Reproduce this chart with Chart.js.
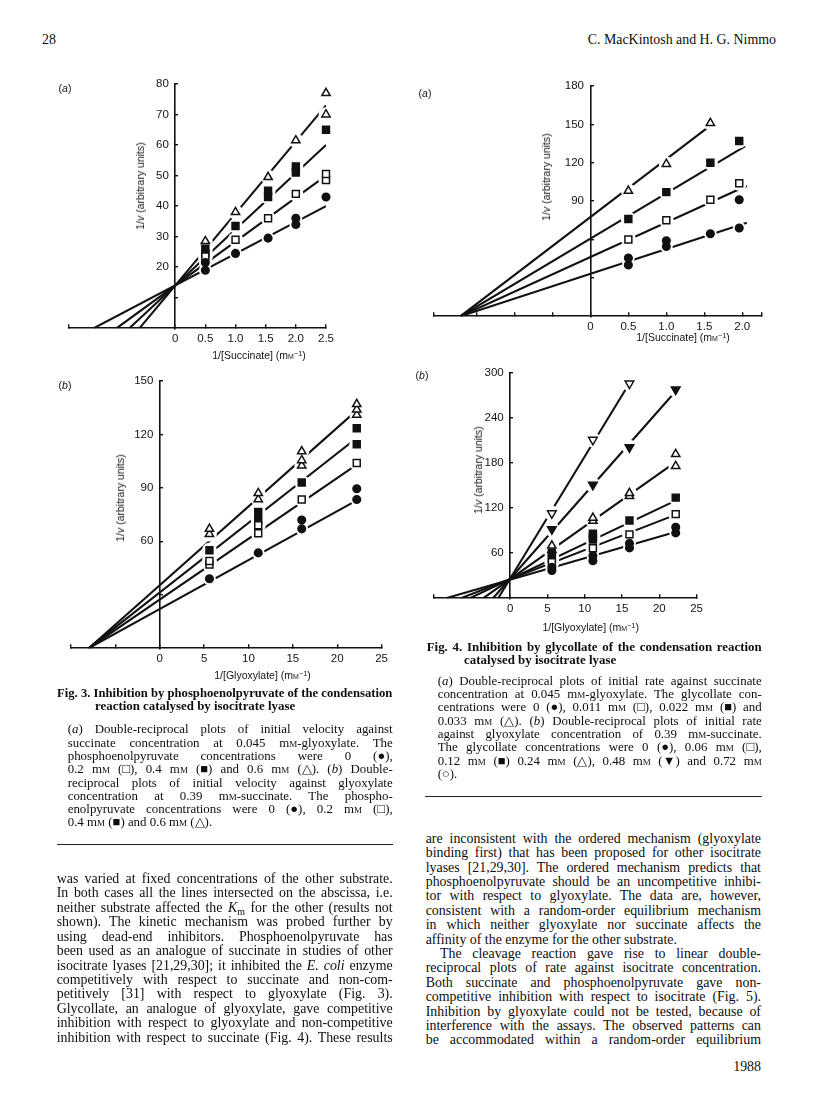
<!DOCTYPE html>
<html>
<head>
<meta charset="utf-8">
<title>Fig. 3 and Fig. 4 - isocitrate lyase inhibition</title>
<script src="https://cdn.jsdelivr.net/npm/chart.js@4.4.0/dist/chart.umd.min.js"></script>
<style>
  html, body { margin: 0; padding: 0; background: #fff; }
  #page { position: relative; width: 816px; height: 1100px; overflow: hidden; color: #0e0e0e;
          font-family: "Liberation Serif", "Times New Roman", serif; }
  #page canvas { position: absolute; }
  .ln { position: absolute; white-space: nowrap; }
  .body { font-size: 13.9px; line-height: 15px; }
  .cap { font-size: 12.9px; line-height: 14px; }
  .capt { font-size: 12.9px; line-height: 14px; font-weight: bold; }
  .ax { position: absolute; white-space: nowrap; font-family: "Liberation Sans", Arial, sans-serif;
        font-size: 10.5px; line-height: 12px; color: #141414; }
  .sc { font-variant: small-caps; }
  .rule { position: absolute; height: 0; border-top: 1.6px solid #222; }
  sup { font-size: 0.7em; line-height: 0; vertical-align: 0.45em; }
  sub { font-size: 0.72em; line-height: 0; vertical-align: -0.25em; }
</style>
</head>
<body>
<div id="page"></div>
<script>
const page = document.getElementById('page');

// ---------- data ----------

// Fig. 3(a): 1/v against 1/[succinate], PEP 0 / 0.2 / 0.4 / 0.6 mM
const f3aCircle = [[0.5,19],[0.5,21.5],[1.0,24.5],[1.54,29.5],[2.0,34],[2.0,36],[2.5,43]];
const f3aOpenSq = [[0.5,23.5],[1.0,29],[1.54,36],[2.0,44],[2.5,48.5],[2.5,50.5]];
const f3aFillSq = [[0.5,24.5],[0.5,26],[1.0,33.5],[1.54,43],[1.54,45],[2.0,51],[2.0,53],[2.5,65]];
const f3aTri    = [[0.5,28.5],[1.0,38],[1.54,49.5],[2.0,61.5],[2.5,70],[2.5,77]];
// fitted lines: [x start, y start, x end, y end]
const f3aLines  = [[-1.35,0,2.5,40],[-0.97,0,2.5,50],[-0.76,0,2.5,60],[-0.59,0,2.5,73]];
const f3aXTicks = [-1.76,0,0.5,1,1.5,2,2.5];
const f3aXLabels = ['','0','0.5','1.0','1.5','2.0','2.5'];
const f3aYTicks = [10,20,30,40,50,60,70,80];
const f3aYLabels = ['','20','30','40','50','60','70','80'];

// Fig. 3(b): 1/v against 1/[glyoxylate]
const f3bCircle = [[5.6,39],[11.1,53.5],[16,67],[16,72],[22.2,83.5],[22.2,89.5]];
const f3bOpenSq = [[5.6,47],[5.6,49],[11.1,64.5],[11.1,69],[16,83.5],[22.2,104]];
const f3bFillSq = [[5.6,55],[11.1,72],[11.1,76.5],[16,93],[22.2,114.5],[22.2,123.5]];
const f3bTri    = [[5.6,64],[5.6,67],[11.1,83.5],[11.1,87],[16,102.5],[16,105.5],[16,110.5],[22.2,131],[22.2,134],[22.2,137]];
const f3bLines  = [[-8,0,22.2,83],[-8,0,22.2,103],[-8,0,22.2,118],[-8,0,22.2,133.5]];
const f3bXTicks = [-10,-5,0,5,10,15,20,25];
const f3bXLabels = ['','','0','5','10','15','20','25'];
const f3bYTicks = [30,60,90,120,150];
const f3bYLabels = ['','60','90','120','150'];

// Fig. 4(a): 1/v against 1/[succinate], glycollate 0 / 0.011 / 0.022 / 0.033 mM
const f4aCircle = [[0.5,40],[0.5,45.5],[1.0,54.5],[1.0,59],[1.58,64.5],[1.96,69],[1.96,91]];
const f4aOpenSq = [[0.5,60],[1.0,75],[1.58,91],[1.96,104]];
const f4aFillSq = [[0.5,76],[1.0,97],[1.58,120],[1.96,137]];
const f4aTri    = [[0.5,98],[1.0,119],[1.58,151]];
const f4aLines  = [[-1.71,0,2.06,73],[-1.71,0,2.06,102],[-1.71,0,2.04,133],[-1.71,0,1.6,150]];
const f4aXTicks = [-2.06,-1.5,-1,-0.5,0,0.5,1,1.5,2,2.26];
const f4aXLabels = ['','','','','0','0.5','1.0','1.5','2.0',''];
const f4aYTicks = [30,60,90,120,150,180];
const f4aYLabels = ['','','90','120','150','180'];

// Fig. 4(b): 1/v against 1/[glyoxylate], glycollate 0 ... 0.72 mM
const f4bCircle  = [[5.6,37],[5.6,41],[11.1,50],[11.1,56.5],[16,67],[16,73],[22.2,87],[22.2,94.5]];
const f4bOpenSq  = [[5.6,48],[11.1,66.5],[16,85],[22.2,112]];
const f4bFillSq  = [[5.6,53],[5.6,60],[11.1,78],[11.1,82],[11.1,86],[16,103.5],[22.2,134]];
const f4bTri     = [[5.6,64],[5.6,70],[11.1,103],[11.1,107],[16,136],[16,140],[22.2,176],[22.2,192]];
const f4bDownFill = [[5.6,92],[11.1,151],[16,201],[22.2,278]];
const f4bDownOpen = [[5.6,113],[11.1,211],[16,286]];
const f4bLines   = [[-8.6,0,22.4,89],[-6.6,0,22.4,112],[-5.4,0,22.4,131],[-3.6,0,22.4,183],[-2.3,0,22.4,278],[-1.6,0,16.1,288]];
const f4bXTicks = [-10.2,0,5,10,15,20,25];
const f4bXLabels = ['','0','5','10','15','20','25'];
const f4bYTicks = [60,120,180,240,300];
const f4bYLabels = ['60','120','180','240','300'];

// ---------- marker styles ----------
const MK = {
  circle:   { style: 'circle',   r: 3.8, fill: '#111111', rot: 0 },
  openSq:   { style: 'rect',     r: 4.9, fill: '#ffffff', rot: 0 },
  fillSq:   { style: 'rect',     r: 4.9, fill: '#111111', rot: 0 },
  tri:      { style: 'triangle', r: 4.8, fill: '#ffffff', rot: 0 },
  downFill: { style: 'triangle', r: 5.0, fill: '#111111', rot: 180 },
  downOpen: { style: 'triangle', r: 5.0, fill: '#ffffff', rot: 180 }
};

const pts = a => a.map(p => ({ x: p[0], y: p[1] }));

function buildDatasets(series, lines) {
  const ds = [];
  series.forEach(s => {
    const m = MK[s.mk];
    ds.push({ data: pts(s.data), pointStyle: m.style, pointRadius: m.r, pointRotation: m.rot, clip: false,
              pointBackgroundColor: m.fill, pointBorderColor: '#111111', pointBorderWidth: 1.5, order: 0 });
    // white halo so the fitted lines break around each symbol
    ds.push({ data: pts(s.data), pointStyle: 'circle', pointRadius: m.r + 2.6, clip: false,
              pointBackgroundColor: '#ffffff', pointBorderWidth: 0, order: 1 });
  });
  lines.forEach(l => {
    ds.push({ data: [{ x: l[0], y: l[1] }, { x: l[2], y: l[3] }], showLine: true, pointRadius: 0,
              borderColor: '#111111', borderWidth: 2.1, order: 2 });
  });
  return ds;
}

// plot-area boxes on the page (left, top, right, bottom)
const panels = [
  { box: { l: 65, t: 84, r: 328, b: 328 }, x: [-1.76, 2.5], y: [0, 80],
    xTicks: f3aXTicks, xLabels: f3aXLabels, yTicks: f3aYTicks, yLabels: f3aYLabels,
    series: [{ mk: 'circle', data: f3aCircle }, { mk: 'openSq', data: f3aOpenSq },
             { mk: 'fillSq', data: f3aFillSq }, { mk: 'tri', data: f3aTri }], lines: f3aLines },
  { box: { l: 66.7, t: 380.7, r: 381.7, b: 648 }, x: [-10, 25], y: [0, 150],
    xTicks: f3bXTicks, xLabels: f3bXLabels, yTicks: f3bYTicks, yLabels: f3bYLabels,
    series: [{ mk: 'circle', data: f3bCircle }, { mk: 'openSq', data: f3bOpenSq },
             { mk: 'fillSq', data: f3bFillSq }, { mk: 'tri', data: f3bTri }], lines: f3bLines },
  { box: { l: 430, t: 86, r: 761.7, b: 316 }, x: [-2.06, 2.26], y: [0, 180],
    xTicks: f4aXTicks, xLabels: f4aXLabels, yTicks: f4aYTicks, yLabels: f4aYLabels,
    series: [{ mk: 'circle', data: f4aCircle }, { mk: 'openSq', data: f4aOpenSq },
             { mk: 'fillSq', data: f4aFillSq }, { mk: 'tri', data: f4aTri }], lines: f4aLines },
  { box: { l: 430, t: 372.7, r: 697.3, b: 597.5 }, x: [-10.2, 25], y: [0, 300],
    xTicks: f4bXTicks, xLabels: f4bXLabels, yTicks: f4bYTicks, yLabels: f4bYLabels,
    series: [{ mk: 'circle', data: f4bCircle }, { mk: 'openSq', data: f4bOpenSq },
             { mk: 'fillSq', data: f4bFillSq }, { mk: 'tri', data: f4bTri },
             { mk: 'downFill', data: f4bDownFill }, { mk: 'downOpen', data: f4bDownOpen }], lines: f4bLines }
];

const tickFont = { family: 'Liberation Sans', size: 11.5 };
const axisGrid = { drawOnChartArea: false, drawTicks: true, tickLength: -4, color: '#111111', lineWidth: 1.4 };
const axisBorder = { display: true, color: '#111111', width: 1.6 };

function drawPanel(p) {
  const padL = 4, padR = 14, padT = 12, padB = 2, axisH = 25.8;
  const w = Math.round(p.box.r - p.box.l + padL + padR);
  const h = Math.round(p.box.b - p.box.t + padT + axisH + padB);
  const cv = document.createElement('canvas');
  cv.width = w; cv.height = h;
  cv.style.width = w + 'px'; cv.style.height = h + 'px';
  cv.style.left = (p.box.l - padL) + 'px';
  cv.style.top = (p.box.t - padT) + 'px';
  page.appendChild(cv);

  new Chart(cv, {
    type: 'scatter',
    data: { datasets: buildDatasets(p.series, p.lines) },
    options: {
      responsive: false, animation: false, devicePixelRatio: 1,
      layout: { padding: { left: padL, right: padR, top: padT, bottom: padB } },
      plugins: { legend: { display: false }, tooltip: { enabled: false } },
      scales: {
        x: {
          type: 'linear', position: 'bottom', min: p.x[0], max: p.x[1],
          afterBuildTicks: ax => { ax.ticks = p.xTicks.map(v => ({ value: v })); },
          ticks: { autoSkip: false, maxRotation: 0, padding: 8, color: '#141414', font: tickFont,
                   callback: (v, i) => p.xLabels[i] },
          grid: axisGrid, border: axisBorder
        },
        y: {
          type: 'linear', position: { x: 0 }, min: p.y[0], max: p.y[1],
          afterBuildTicks: ax => { ax.ticks = p.yTicks.map(v => ({ value: v })); },
          ticks: { autoSkip: false, color: '#141414', font: tickFont,
                   callback: (v, i) => p.yLabels[i] ? p.yLabels[i] + '  ' : '' },
          grid: axisGrid, border: axisBorder
        }
      }
    }
  });
}
panels.forEach(drawPanel);

// ---------- text ----------
const MM = 'm<span class="sc">m</span>';

function putLine(html, cls, x, yc, w, just) {
  const d = document.createElement('div');
  d.className = 'ln ' + cls;
  d.innerHTML = html;
  page.appendChild(d);
  const lh = parseFloat(getComputedStyle(d).lineHeight);
  d.style.left = x + 'px';
  d.style.top = (yc - lh / 2) + 'px';
  if (w) {
    const nat = d.getBoundingClientRect().width;
    const gaps = (d.textContent.match(/ /g) || []).length;
    if (nat > w) { d.style.transformOrigin = '0 50%'; d.style.transform = 'scaleX(' + (w / nat) + ')'; }
    else if (just && gaps) d.style.wordSpacing = ((w - nat) / gaps) + 'px';
  }
  return d;
}
function putRight(html, cls, right, yc) {
  const d = putLine(html, cls, 0, yc, 0, false);
  d.style.left = (right - d.getBoundingClientRect().width) + 'px';
}
function putBlock(lines, cls, x, y0, step, w, lastLeft) {
  lines.forEach((t, i) => putLine(t, cls, x, y0 + i * step, w, !(lastLeft && i === lines.length - 1)));
}
function axisText(html, cx, cy, rotate) {
  const d = document.createElement('div');
  d.className = 'ax';
  d.innerHTML = html;
  d.style.left = cx + 'px';
  d.style.top = cy + 'px';
  d.style.transform = 'translate(-50%, -50%)' + (rotate ? ' rotate(-90deg)' : '');
  page.appendChild(d);
}
function rule(x1, x2, y) {
  const d = document.createElement('div');
  d.className = 'rule';
  d.style.left = x1 + 'px'; d.style.width = (x2 - x1) + 'px'; d.style.top = y + 'px';
  page.appendChild(d);
}

// running head
putLine('28', 'body', 42, 39, 0, false);
putRight('C. MacKintosh and H. G. Nimmo', 'body', 776, 39);

// axis titles and panel letters
const yTitle = '1/<i>v</i> (arbitrary units)';
axisText('(<i>a</i>)', 65, 88, false);
axisText(yTitle, 140, 186, true);
axisText(`1/[Succinate] (${MM}<sup>−1</sup>)`, 259, 354.5, false);
axisText('(<i>b</i>)', 65, 385, false);
axisText(yTitle, 120, 498, true);
axisText(`1/[Glyoxylate] (${MM}<sup>−1</sup>)`, 262.5, 675, false);
axisText('(<i>a</i>)', 425, 93, false);
axisText(yTitle, 545.7, 177, true);
axisText(`1/[Succinate] (${MM}<sup>−1</sup>)`, 683, 336.7, false);
axisText('(<i>b</i>)', 422, 375, false);
axisText(yTitle, 478.3, 470, true);
axisText(`1/[Glyoxylate] (${MM}<sup>−1</sup>)`, 590.7, 626.7, false);

// Fig. 3 legend
putLine('Fig. 3. Inhibition by phosphoenolpyruvate of the condensation', 'capt', 57.3, 692.5, 335.4, true);
putLine('reaction catalysed by isocitrate lyase', 'capt', 95, 706, 0, false);
putBlock([
  '(<i>a</i>) Double-reciprocal plots of initial velocity against',
  `succinate concentration at 0.045 ${MM}-glyoxylate. The`,
  'phosphoenolpyruvate concentrations were 0 (●),',
  `0.2 ${MM} (□), 0.4 ${MM} (■) and 0.6 ${MM} (△). (<i>b</i>) Double-`,
  'reciprocal plots of initial velocity against glyoxylate',
  `concentration at 0.39 ${MM}-succinate. The phospho-`,
  `enolpyruvate concentrations were 0 (●), 0.2 ${MM} (□),`,
  `0.4 ${MM} (■) and 0.6 ${MM} (△).`
], 'cap', 67.7, 729.3, 13.3, 325, true);
rule(57, 393, 843.5);

// Fig. 4 legend
putLine('Fig. 4. Inhibition by glycollate of the condensation reaction', 'capt', 426.7, 646.5, 335, true);
putLine('catalysed by isocitrate lyase', 'capt', 464, 660, 0, false);
putBlock([
  '(<i>a</i>) Double-reciprocal plots of initial rate against succinate',
  `concentration at 0.045 ${MM}-glyoxylate. The glycollate con-`,
  `centrations were 0 (●), 0.011 ${MM} (□), 0.022 ${MM} (■) and`,
  `0.033 ${MM} (△). (<i>b</i>) Double-reciprocal plots of initial rate`,
  `against glyoxylate concentration of 0.39 ${MM}-succinate.`,
  `The glycollate concentrations were 0 (●), 0.06 ${MM} (□),`,
  `0.12 ${MM} (■) 0.24 ${MM} (△), 0.48 ${MM} (▼) and 0.72 ${MM}`,
  '(○).'
], 'cap', 437.7, 680.7, 13.3, 324, true);
rule(425, 762, 795.5);

// body text, left column
putBlock([
  'was varied at fixed concentrations of the other substrate.',
  'In both cases all the lines intersected on the abscissa, i.e.',
  'neither substrate affected the <i>K</i><sub>m</sub> for the other (results not',
  'shown). The kinetic mechanism was probed further by',
  'using dead-end inhibitors. Phosphoenolpyruvate has',
  'been used as an analogue of succinate in studies of other',
  'isocitrate lyases [21,29,30]; it inhibited the <i>E. coli</i> enzyme',
  'competitively with respect to succinate and non-com-',
  'petitively [31] with respect to glyoxylate (Fig. 3).',
  'Glycollate, an analogue of glyoxylate, gave competitive',
  'inhibition with respect to glyoxylate and non-competitive',
  'inhibition with respect to succinate (Fig. 4). These results'
], 'body', 56.7, 878.3, 14.45, 336, false);

// body text, right column
putBlock([
  'are inconsistent with the ordered mechanism (glyoxylate',
  'binding first) that has been proposed for other isocitrate',
  'lyases [21,29,30]. The ordered mechanism predicts that',
  'phosphoenolpyruvate should be an uncompetitive inhibi-',
  'tor with respect to glyoxylate. The data are, however,',
  'consistent with a random-order equilibrium mechanism',
  'in which neither glyoxylate nor succinate affects the'
], 'body', 425.7, 838.3, 14.4, 335.3, false);
putLine('affinity of the enzyme for the other substrate.', 'body', 425.7, 838.3 + 7 * 14.4, 0, false);
putLine('The cleavage reaction gave rise to linear double-', 'body', 440, 838.3 + 8 * 14.4, 321, true);
putBlock([
  'reciprocal plots of rate against isocitrate concentration.',
  'Both succinate and phosphoenolpyruvate gave non-',
  'competitive inhibition with respect to isocitrate (Fig. 5).',
  'Inhibition by glyoxylate could not be tested, because of',
  'interference with the assays. The observed patterns can',
  'be accommodated within a random-order equilibrium'
], 'body', 425.7, 838.3 + 9 * 14.4, 14.4, 335.3, false);
putRight('1988', 'body', 761, 1066);
</script>
</body>
</html>
